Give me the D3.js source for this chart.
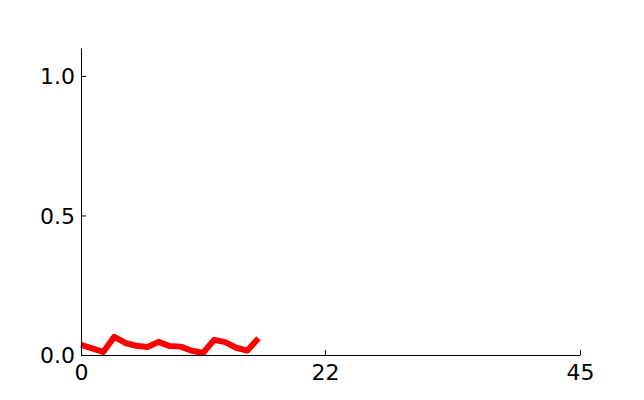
<!DOCTYPE html>
<html><head><script src="https://cdn.jsdelivr.net/npm/d3@7"></script>
<style>body{margin:0;background:#fff}</style></head>
<body><script>
var xs = [0,1,2,3,4,5,6,7,8,9,10,11,12,13,14,15,16];
var ys = [0.036,0.024,0.011,0.065,0.043,0.033,0.029,0.047,0.032,0.030,0.015,0.007,0.054,0.046,0.026,0.016,0.060];
var xTicks = [0,22,45];
var yTicks = [0.0,0.5,1.0];

var svg = d3.select("body").append("svg").attr("width",644).attr("height",400);
var x = d3.scaleLinear().domain([0,45]).range([81,580]);
var y = d3.scaleLinear().domain([0,1.1]).range([355,48]);

svg.append("path").datum(xs)
  .attr("fill","none").attr("stroke","#ff0000").attr("stroke-width",6).attr("stroke-linejoin","round")
  .attr("d", d3.line().x(d => x(d)).y((d,i) => y(ys[i])));

var xa = svg.append("g").attr("transform","translate(0,355)")
  .call(d3.axisBottom(x).tickValues(xTicks).tickFormat(d3.format("d")).tickSize(-5).tickSizeOuter(0));
var ya = svg.append("g").attr("transform","translate(81,0)")
  .call(d3.axisLeft(y).tickValues(yTicks).tickFormat(d3.format(".1f")).tickSize(-5).tickSizeOuter(0));
[xa,ya].forEach(function(a){
  a.selectAll("text").attr("font-family","DejaVu Sans").attr("font-size",22).attr("fill","#000");
  a.selectAll("line,path").attr("stroke","#000");
});
xa.selectAll("text").attr("dy","1.0em").attr("y",3);
ya.selectAll("text").attr("x",-6).attr("dy","0.35em");
</script></body></html>
